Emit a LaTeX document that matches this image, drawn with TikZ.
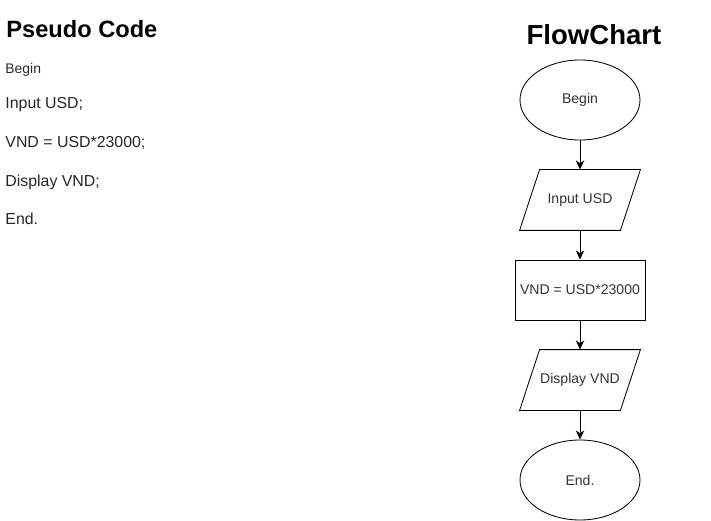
\documentclass[tikz,border=0pt]{standalone}
\usepackage{fontspec}
\setmainfont{Liberation Sans}
\usetikzlibrary{arrows.meta, shapes.geometric, positioning}

\begin{document}
\begin{tikzpicture}[
    semithick,
    term/.style={draw, ellipse, minimum width=3cm, minimum height=2cm, inner sep=0pt, font=\fontsize{10}{12}\selectfont, text=black!80},
    inout/.style={rectangle, minimum width=3cm, minimum height=1.5cm, inner sep=0pt, font=\fontsize{10}{12}\selectfont, text=black!80},
    proc/.style={draw, rectangle, minimum width=3.25cm, minimum height=1.5cm, inner sep=0pt, font=\fontsize{10}{12}\selectfont, text=black!80},
    codeline/.style={anchor=base west, inner sep=0pt, font=\fontsize{11.3}{13}\selectfont, text=black!85},
    heading/.style={inner sep=0pt, font=\bfseries\fontsize{16.8}{20}\selectfont}
]
    \useasboundingbox (0,0) rectangle (17.775,-13.025);

    % Pseudo code on the left
    \node[heading, anchor=base west] (PseudoTitle) at (0.15,-0.93) {Pseudo Code};
    \node[codeline, font=\fontsize{9.9}{11}\selectfont] (CodeBegin) at (0.125,-1.85) {Begin};
    \node[codeline] (CodeInput) at (0.125,-2.725) {Input USD;};
    \node[codeline] (CodeCalc) at (0.125,-3.7) {VND = USD*23000;};
    \node[codeline] (CodeDisplay) at (0.125,-4.675) {Display VND;};
    \node[codeline] (CodeEnd) at (0.125,-5.625) {End.};

    % Flowchart on the right
    \node[heading, anchor=base, font=\bfseries\fontsize{19.6}{23}\selectfont] (FlowTitle) at (14.85,-1.12) {FlowChart};
    \node[term] (Begin) at (14.5,-2.5) {Begin};
    \node[inout] (Input) at (14.5,-5) {Input USD};
    \node[proc] (Calc) at (14.5,-7.25) {VND = USD*23000};
    \node[inout] (Display) at (14.5,-9.5) {Display VND};
    \node[term] (End) at (14.5,-12) {End.};

    % Parallelograms for input and output
    \foreach \n in {Input, Display}
        \draw ([xshift=0.5cm]\n.north west) -- (\n.north east) -- ([xshift=-0.5cm]\n.south east) -- (\n.south west) -- cycle;

    % Arrows
    \path [-{Stealth[length=2.3mm, width=2.1mm]}] (Begin) edge (Input);
    \path [-{Stealth[length=2.3mm, width=2.1mm]}] (Input) edge (Calc);
    \path [-{Stealth[length=2.3mm, width=2.1mm]}] (Calc) edge (Display);
    \path [-{Stealth[length=2.3mm, width=2.1mm]}] (Display) edge (End);
\end{tikzpicture}
\end{document}
